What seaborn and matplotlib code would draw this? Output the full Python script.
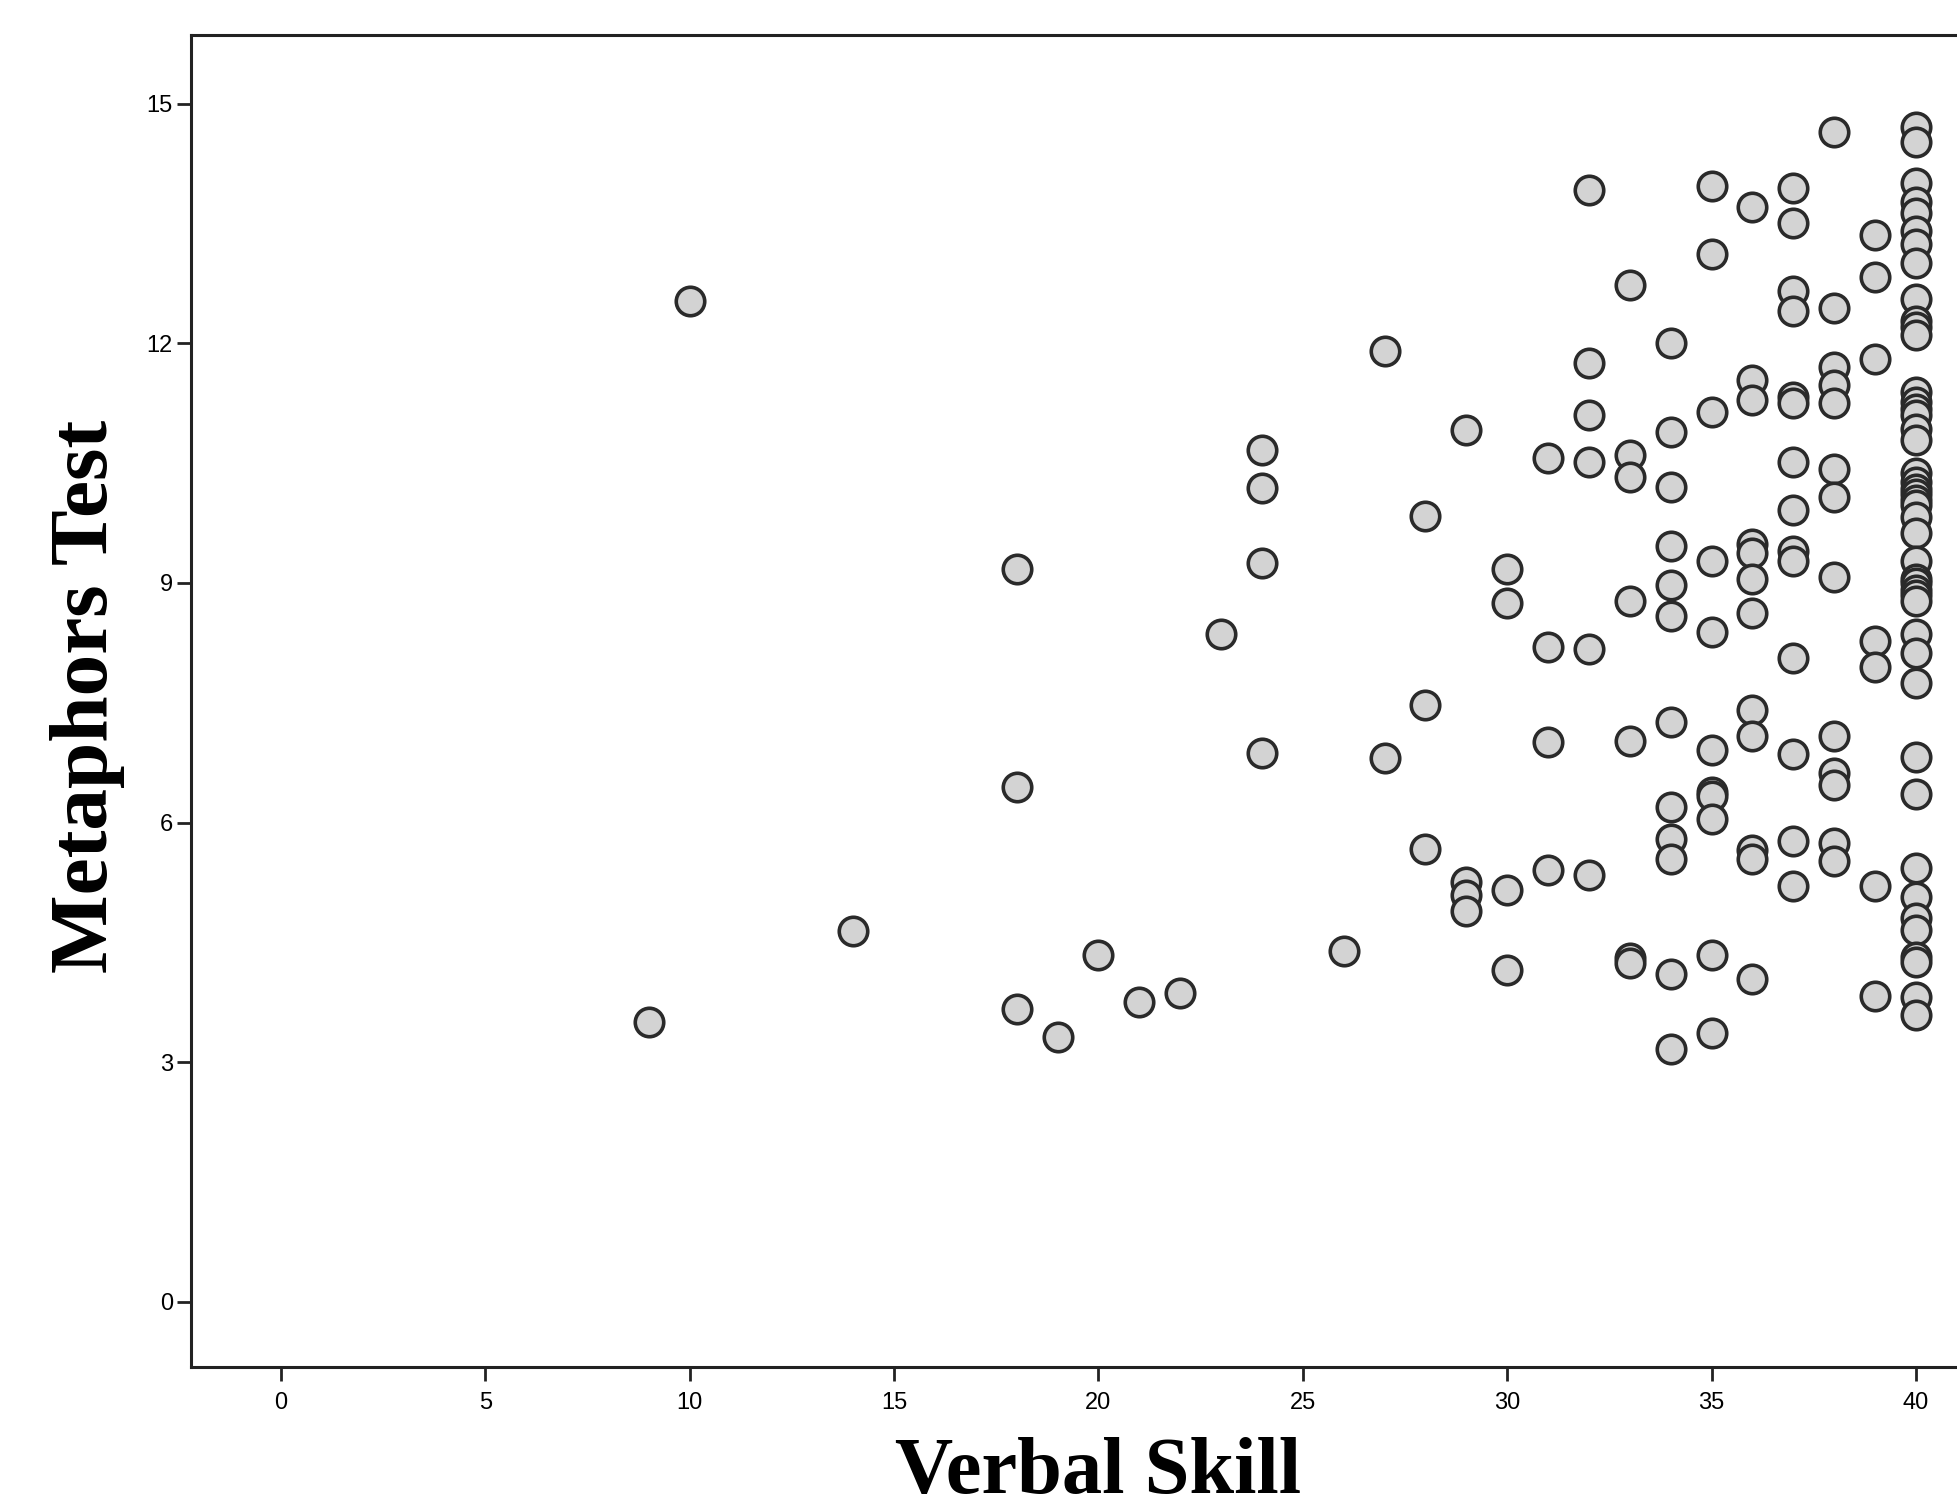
import matplotlib
matplotlib.use("Agg")
import matplotlib.pyplot as plt
import seaborn as sns
import pandas as pd

# Scores, grouped by Verbal Skill value
verbal_skill = (
    [9] + [10] + [14] + [18] * 3 + [19] + [20] + [21] + [22] + [23]
    + [24] * 4 + [26] + [27] * 2 + [28] * 3 + [29] * 4 + [30] * 4
    + [31] * 4 + [32] * 6 + [33] * 7 + [34] * 12 + [35] * 11
    + [36] * 12 + [37] * 14 + [38] * 13 + [39] * 7 + [40] * 45
)
metaphors_test = [
    3.5,
    12.53,
    4.64,
    9.17, 6.45, 3.66,
    3.31,
    4.34,
    3.75,
    3.87,
    8.36,
    10.67, 10.19, 9.25, 6.87,
    4.39,
    11.9, 6.81,
    9.84, 7.47, 5.67,
    10.92, 5.25, 5.09, 4.89,
    9.17, 8.75, 5.16, 4.16,
    10.56, 8.2, 7.01, 5.41,
    13.92, 11.75, 11.1, 10.51, 8.17, 5.35,
    12.73, 10.6, 10.33, 8.77, 7.02, 4.31, 4.24,
    12.0, 10.89, 10.2, 9.46, 8.97, 8.58, 7.26, 6.2, 5.79, 5.55, 4.1, 3.17,
    13.97, 13.12, 11.14, 9.27, 8.38, 6.91, 6.38, 6.33, 6.05, 4.34, 3.37,
    13.71, 11.54, 11.29, 9.49, 9.37, 9.05, 8.62, 7.41, 7.08, 5.66, 5.55, 4.04,
    13.94, 13.5, 12.65, 12.4, 11.33, 11.25, 10.52, 9.91, 9.4, 9.28, 8.06, 6.86, 5.77, 5.2,
    14.65, 12.44, 11.7, 11.48, 11.25, 10.43, 10.08, 9.07, 7.08, 6.62, 6.47, 5.74, 5.52,
    13.36, 12.83, 11.8, 8.27, 7.95, 5.2, 3.83,
    14.71, 14.52, 14.01, 13.77, 13.63, 13.41, 13.24, 13.0, 12.55, 12.28, 12.2, 12.11,
    11.39, 11.27, 11.18, 11.1, 10.93, 10.79, 10.38, 10.26, 10.18, 10.11, 10.04, 9.97,
    9.83, 9.63, 9.27, 9.05, 9.0, 8.91, 8.85, 8.77, 8.36, 8.12, 7.75, 6.82, 6.36,
    5.43, 5.07, 4.8, 4.65, 4.32, 4.26, 3.82, 3.59,
]
x_ticks = [0, 5, 10, 15, 20, 25, 30, 35, 40]
y_ticks = [0, 3, 6, 9, 12, 15]

df = pd.DataFrame({"Verbal Skill": verbal_skill, "Metaphors Test": metaphors_test})

sns.set_style("ticks")
plt.rcParams["font.family"] = ["Liberation Sans", "DejaVu Sans"]

fig = plt.figure(figsize=(19.57, 15.08), dpi=100)
# axes run past the right edge, as in the cropped original
ax = fig.add_axes([0.0976, 0.0938, 0.9274, 0.883])

sns.scatterplot(data=df, x="Verbal Skill", y="Metaphors Test", ax=ax,
                s=420, color="#d3d3d3", edgecolor="#2a2a2a", linewidth=2.6)

ax.set_xlim(-2.2, 42.2)
ax.set_ylim(-0.81, 15.86)
ax.set_xticks(x_ticks)
ax.set_yticks(y_ticks)
ax.tick_params(direction="out", length=10, width=2, colors="#222222",
               labelsize=17, labelcolor="black")
ax.tick_params(axis="x", pad=8)
ax.tick_params(axis="y", pad=3)
for side in ["left", "top", "bottom", "right"]:
    ax.spines[side].set_linewidth(2.2)
    ax.spines[side].set_color("#222222")

label_font = dict(family="Liberation Serif", fontweight="bold", color="black")
ax.set_xlabel("Verbal Skill", va="center", fontsize=58, **label_font)
ax.set_ylabel("Metaphors Test", va="center", fontsize=60, **label_font)
ax.xaxis.set_label_coords(0.4997, -0.080)
ax.yaxis.set_label_coords(-0.0573, 0.5036)

fig.savefig("out.png", dpi=100)
